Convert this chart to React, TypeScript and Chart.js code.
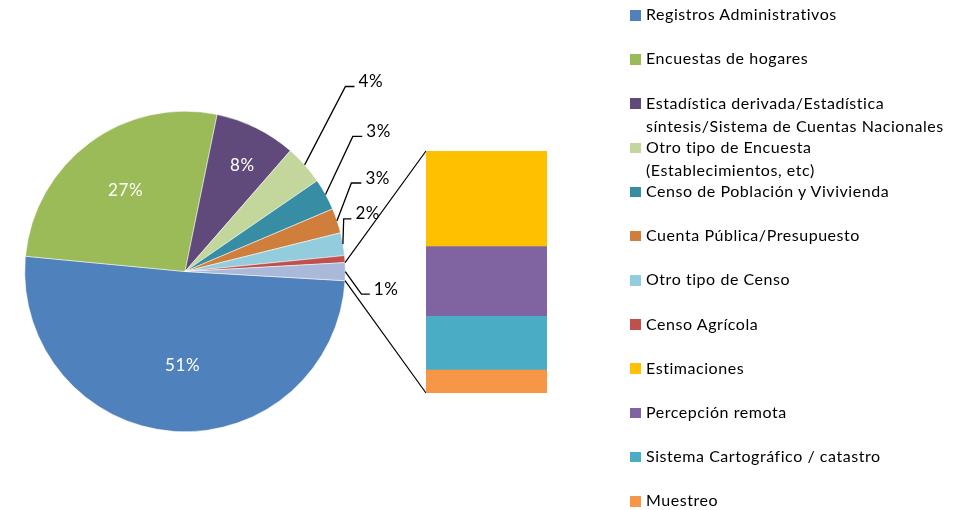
import React, { useEffect, useRef } from "react";
import { Chart, registerables } from "chart.js";

Chart.register(...registerables);

// ---------- DATA ----------
const pieCategories = [
  "Registros Administrativos",
  "Encuestas de hogares",
  "Estadística derivada/Estadística\nsíntesis/Sistema de Cuentas Nacionales",
  "Otro tipo de Encuesta\n(Establecimientos, etc)",
  "Censo de Población y Vivivienda",
  "Cuenta Pública/Presupuesto",
  "Otro tipo de Censo",
  "Censo Agrícola",
];
const pieValues = [50.6, 26.7, 8.2, 4.0, 3.2, 2.5, 2.3, 0.7];
const pieColors = [
  "#4F81BD",
  "#9BBB59",
  "#604A7B",
  "#C3D69B",
  "#378DA3",
  "#CF7F3B",
  "#93CDDD",
  "#C0504D",
];

const barCategories = [
  "Estimaciones",
  "Percepción remota",
  "Sistema Cartográfico / catastro",
  "Muestreo",
];
const barValues = [0.71, 0.52, 0.4, 0.17];
const barColors = ["#FFC000", "#8064A2", "#4BACC6", "#F79646"];

const otherLabel = "Otros";
const otherColor = "#AAB9D9";

// data label texts, per slice (pie slices, then the "other" slice)
const sliceLabels = ["51%", "27%", "8%", "4%", "3%", "3%", "2%", "", "1%"];

// ---------- LAYOUT ----------
const W = 977;
const H = 510;
const PIE_PAD = { left: 24, top: 111, right: W - 346, bottom: H - 432 };
const PIE_ROTATION = 93.3;
const BAR_BOX = { left: 426, top: 151, width: 121, height: 242 };
const FONT = "Lato, 'Open Sans', sans-serif";

// inside label placement: radius fraction + angular nudge (deg)
const insideLayout: Record<number, { r: number; da: number }> = {
  0: { r: 0.584, da: -2.9 },
  1: { r: 0.627, da: 0.2 },
  2: { r: 0.75, da: 2.2 },
};
// outside label placement: elbow offset from slice edge + horizontal leader length
const outsideLayout: Record<number, { ex: number; ey: number; h: number }> = {
  3: { ex: 40.8, ey: -78.4, h: 9 },
  4: { ex: 27.3, ey: -58, h: 9.4 },
  5: { ex: 14.4, ey: -37.7, h: 10 },
  6: { ex: 0.8, ey: -25.2, h: 7.7 },
  8: { ex: 16.2, ey: 22.5, h: 8.3 },
};

const LEGEND_X = 630;
const LEGEND_TOP = 15.3;
const LEGEND_STEP = 44.18;

export default function App() {
  const pieRef = useRef<HTMLCanvasElement | null>(null);
  const barRef = useRef<HTMLCanvasElement | null>(null);

  useEffect(() => {
    document.body.style.margin = "0";
    const otherValue = barValues.reduce((a, b) => a + b, 0);

    const barChart = new Chart(barRef.current as HTMLCanvasElement, {
      type: "bar",
      data: {
        labels: [otherLabel],
        datasets: barCategories
          .map((c, i) => ({
            label: c,
            data: [barValues[i]],
            backgroundColor: barColors[i],
            borderWidth: 0,
            barPercentage: 1,
            categoryPercentage: 1,
          }))
          .reverse(),
      },
      options: {
        responsive: false,
        animation: false,
        layout: { padding: 0 },
        scales: {
          x: { stacked: true, display: false },
          y: { stacked: true, display: false, min: 0, max: otherValue },
        },
        plugins: { legend: { display: false }, tooltip: { enabled: false } },
      },
    });

    const labelPlugin = {
      id: "pieLabels",
      afterDraw(chart: any) {
        const ctx = chart.ctx as CanvasRenderingContext2D;
        const meta = chart.getDatasetMeta(0);
        ctx.save();
        // inside labels
        ctx.fillStyle = "#FFFFFF";
        ctx.font = `17px ${FONT}`;
        ctx.textAlign = "center";
        ctx.textBaseline = "middle";
        (ctx as any).letterSpacing = "0.6px";
        meta.data.forEach((arc: any, i: number) => {
          const lay = insideLayout[i];
          if (!lay || !sliceLabels[i]) return;
          const p = arc.getProps(["x", "y", "startAngle", "endAngle", "outerRadius"], true);
          const a = (p.startAngle + p.endAngle) / 2 + (lay.da * Math.PI) / 180;
          const r = p.outerRadius * lay.r;
          ctx.fillText(sliceLabels[i], p.x + r * Math.cos(a), p.y + r * Math.sin(a));
        });
        // outside labels with leader lines
        ctx.fillStyle = "#000000";
        ctx.strokeStyle = "#000000";
        ctx.lineWidth = 1.3;
        ctx.textAlign = "left";
        ctx.textBaseline = "alphabetic";
        meta.data.forEach((arc: any, i: number) => {
          const lay = outsideLayout[i];
          if (!lay || !sliceLabels[i]) return;
          const p = arc.getProps(["x", "y", "startAngle", "endAngle", "outerRadius"], true);
          const a = (p.startAngle + p.endAngle) / 2;
          const sx = p.x + p.outerRadius * Math.cos(a);
          const sy = p.y + p.outerRadius * Math.sin(a);
          const exx = sx + lay.ex;
          const eyy = sy + lay.ey;
          ctx.beginPath();
          ctx.moveTo(sx, sy);
          ctx.lineTo(exx, eyy);
          ctx.lineTo(exx + lay.h, eyy);
          ctx.stroke();
          ctx.fillText(sliceLabels[i], exx + lay.h + 4, eyy + 0.5);
        });
        // connector lines from "other" slice to the bar
        const other = meta.data[meta.data.length - 1];
        const op = other.getProps(["x", "y", "startAngle", "endAngle", "outerRadius"], true);
        const area = barChart.chartArea;
        const bx = BAR_BOX.left + area.left;
        const byTop = BAR_BOX.top + area.top;
        const byBot = BAR_BOX.top + area.bottom;
        ctx.lineWidth = 1.2;
        ctx.beginPath();
        ctx.moveTo(op.x + op.outerRadius * Math.cos(op.startAngle), op.y + op.outerRadius * Math.sin(op.startAngle));
        ctx.lineTo(bx, byTop);
        ctx.moveTo(op.x + op.outerRadius * Math.cos(op.endAngle), op.y + op.outerRadius * Math.sin(op.endAngle));
        ctx.lineTo(bx, byBot);
        ctx.stroke();
        ctx.restore();
      },
    };

    const pieChart = new Chart(pieRef.current as HTMLCanvasElement, {
      type: "pie",
      data: {
        labels: [...pieCategories, otherLabel],
        datasets: [
          {
            data: [...pieValues, otherValue],
            backgroundColor: [...pieColors, otherColor],
            borderWidth: 0.5,
            borderColor: "#FFFFFF",
          },
        ],
      },
      options: {
        responsive: false,
        animation: false,
        rotation: PIE_ROTATION,
        layout: { padding: PIE_PAD },
        plugins: { legend: { display: false }, tooltip: { enabled: false } },
      },
      plugins: [labelPlugin],
    });

    return () => {
      pieChart.destroy();
      barChart.destroy();
    };
  }, []);

  const legendItems = [
    ...pieCategories.map((c, i) => ({ text: c, color: pieColors[i] })),
    ...barCategories.map((c, i) => ({ text: c, color: barColors[i] })),
  ];

  return (
    <div style={{ position: "relative", width: W, height: H, background: "#fff", overflow: "hidden" }}>
      <canvas ref={pieRef} width={W} height={H} style={{ position: "absolute", left: 0, top: 0, display: "block" }} />
      <canvas
        ref={barRef}
        width={BAR_BOX.width}
        height={BAR_BOX.height}
        style={{ position: "absolute", left: BAR_BOX.left, top: BAR_BOX.top, display: "block" }}
      />
      {legendItems.map((it, i) => {
        const cy = LEGEND_TOP + LEGEND_STEP * i;
        return (
          <React.Fragment key={i}>
            <div
              style={{
                position: "absolute",
                left: LEGEND_X,
                top: cy - 5.3,
                width: 10.6,
                height: 10.6,
                background: it.color,
              }}
            />
            <div
              style={{
                position: "absolute",
                left: LEGEND_X + 16,
                top: cy - 13,
                fontFamily: FONT,
                fontSize: 16,
                letterSpacing: "0.55px",
                lineHeight: "23px",
                color: "#000",
                whiteSpace: "pre",
              }}
            >
              {it.text}
            </div>
          </React.Fragment>
        );
      })}
    </div>
  );
}
